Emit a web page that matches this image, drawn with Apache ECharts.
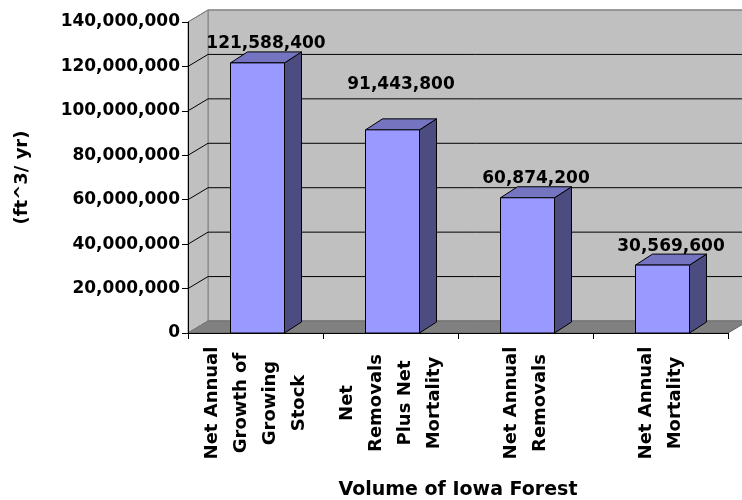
<!DOCTYPE html>
<html>
<head>
<meta charset="utf-8">
<script src="https://cdn.jsdelivr.net/npm/echarts@6/dist/echarts.min.js"></script>
<style>
  html, body { margin: 0; padding: 0; background: #ffffff; }
  #chart { width: 742px; height: 500px; }
</style>
</head>
<body>
<div id="chart"></div>
<script>
// Volume of Iowa forest, cubic feet per year
const categories = [
  'Net Annual\nGrowth of\nGrowing\nStock',
  'Net\nRemovals\nPlus Net\nMortality',
  'Net Annual\nRemovals',
  'Net Annual\nMortality'
];
const volumes = [121588400, 91443800, 60874200, 30569600];
const yTicks = [0, 20000000, 40000000, 60000000, 80000000, 100000000, 120000000, 140000000];
const xAxisTitle = 'Volume of Iowa Forest';
const yAxisTitle = '(ft^3/ yr)';

// Depth of the 3-D box (walls) and of each column, in pixels
const WALL_DX = 20, WALL_DY = -12;
const BAR_DX = 17, BAR_DY = -11;
const BAR_WIDTH_RATIO = 0.4;
// extra lift for individual value labels
const labelLift = [0, 26, 0, 0];

const FONT = '"DejaVu Sans", "Liberation Sans", Arial, sans-serif';

function withCommas(v) {
  return String(Math.round(v)).replace(/\B(?=(\d{3})+(?!\d))/g, ',');
}

function plotEdges(api) {
  const bw = api.size([1, 0])[0];
  const x0 = api.coord([0, 0])[0] - bw / 2;
  const x1 = api.coord([categories.length - 1, 0])[0] + bw / 2;
  const yB = api.coord([0, yTicks[0]])[1];
  const yT = api.coord([0, yTicks[yTicks.length - 1]])[1];
  return { x0, x1, yB, yT, bw };
}

// back wall, side wall and floor
function renderWalls(params, api) {
  const e = plotEdges(api);
  const dx = WALL_DX, dy = WALL_DY;
  return {
    type: 'group',
    children: [
      {
        type: 'rect',
        shape: { x: e.x0 + dx, y: e.yT + dy, width: e.x1 - e.x0, height: e.yB - e.yT },
        style: { fill: '#c0c0c0', stroke: '#808080', lineWidth: 1 }
      },
      {
        type: 'polygon',
        shape: { points: [[e.x0, e.yB], [e.x0, e.yT], [e.x0 + dx, e.yT + dy], [e.x0 + dx, e.yB + dy]] },
        style: { fill: '#c0c0c0', stroke: '#808080', lineWidth: 1 }
      },
      {
        type: 'polygon',
        shape: { points: [[e.x0, e.yB], [e.x1, e.yB], [e.x1 + dx, e.yB + dy], [e.x0 + dx, e.yB + dy]] },
        style: { fill: '#808080', stroke: '#606060', lineWidth: 1 }
      }
    ]
  };
}

// one gridline per tick: diagonal on the side wall, horizontal on the back wall
function renderGridline(params, api) {
  const e = plotEdges(api);
  const v = api.value(1);
  const y = api.coord([0, v])[1];
  const edge = (v === yTicks[0] || v === yTicks[yTicks.length - 1]);
  const color = edge ? '#808080' : '#000000';
  return {
    type: 'group',
    children: [
      {
        type: 'line',
        shape: { x1: e.x0, y1: y, x2: e.x0 + WALL_DX, y2: y + WALL_DY },
        style: { stroke: color, lineWidth: 1 }
      },
      {
        type: 'line',
        shape: { x1: e.x0 + WALL_DX, y1: y + WALL_DY, x2: e.x1 + WALL_DX, y2: y + WALL_DY },
        style: { stroke: color, lineWidth: 1 }
      }
    ]
  };
}

// 3-D column with its value label
function renderColumn(params, api) {
  const idx = api.value(0);
  const v = api.value(1);
  const top = api.coord([idx, v]);
  const base = api.coord([idx, 0]);
  const bw = api.size([1, 0])[0];
  const w = bw * BAR_WIDTH_RATIO;
  const cx = top[0] + 2;
  const xl = cx - w / 2, xr = cx + w / 2;
  const yt = top[1], yb = base[1];
  const dx = BAR_DX, dy = BAR_DY;
  const outline = { stroke: '#000000', lineWidth: 1, lineJoin: 'round' };
  return {
    type: 'group',
    children: [
      {
        type: 'polygon',
        shape: { points: [[xr, yb], [xr, yt], [xr + dx, yt + dy], [xr + dx, yb + dy]] },
        style: Object.assign({ fill: '#4c4c80' }, outline)
      },
      {
        type: 'polygon',
        shape: { points: [[xl, yt], [xr, yt], [xr + dx, yt + dy], [xl + dx, yt + dy]] },
        style: Object.assign({ fill: '#7474c0' }, outline)
      },
      {
        type: 'rect',
        shape: { x: xl, y: yt, width: w, height: yb - yt },
        style: Object.assign({ fill: '#9999ff' }, outline)
      },
      {
        type: 'text',
        x: cx + dx / 2,
        y: yt + dy - 8 - labelLift[params.dataIndex],
        style: {
          text: withCommas(v),
          fill: '#000000',
          fontSize: 17,
          fontWeight: 'bold',
          fontFamily: FONT,
          align: 'center',
          verticalAlign: 'middle'
        }
      }
    ]
  };
}

const chart = echarts.init(document.getElementById('chart'), null, { renderer: 'canvas' });

chart.setOption({
  animation: false,
  backgroundColor: '#ffffff',
  grid: { left: 188, right: 14, top: 22, bottom: 167, containLabel: false, outerBoundsMode: 'none' },
  xAxis: {
    type: 'category',
    data: categories,
    boundaryGap: true,
    z: 10,
    axisLine: { show: true, lineStyle: { color: '#000000', width: 1 } },
    axisTick: { show: true, length: 6, alignWithLabel: false, lineStyle: { color: '#000000' } },
    axisLabel: {
      interval: 0,
      rotate: 90,
      align: 'center',
      verticalAlign: 'middle',
      margin: 70,
      lineHeight: 29,
      padding: [12, 0, 0, 0],
      fontSize: 18,
      fontWeight: 'bold',
      fontFamily: FONT,
      color: '#000000'
    },
    splitLine: { show: false },
    name: xAxisTitle,
    nameLocation: 'middle',
    nameGap: 148,
    nameTextStyle: { fontSize: 19, fontWeight: 'bold', fontFamily: FONT, color: '#000000' }
  },
  yAxis: {
    type: 'value',
    min: yTicks[0],
    max: yTicks[yTicks.length - 1],
    interval: yTicks[1] - yTicks[0],
    z: 10,
    axisLine: { show: true, lineStyle: { color: '#000000', width: 1 } },
    axisTick: { show: true, length: 6, lineStyle: { color: '#000000' } },
    splitLine: { show: false },
    axisLabel: {
      formatter: withCommas,
      margin: 8,
      fontSize: 17,
      fontWeight: 'bold',
      fontFamily: FONT,
      color: '#000000'
    },
    name: yAxisTitle,
    nameLocation: 'middle',
    nameRotate: 90,
    nameGap: 157,
    nameTextStyle: { fontSize: 18, fontWeight: 'bold', fontFamily: FONT, color: '#000000' }
  },
  series: [
    {
      name: 'walls',
      type: 'custom',
      z: 1,
      silent: true,
      renderItem: renderWalls,
      data: [[0, 0]]
    },
    {
      name: 'gridlines',
      type: 'custom',
      z: 2,
      silent: true,
      renderItem: renderGridline,
      data: yTicks.map(v => [0, v])
    },
    {
      name: 'volume',
      type: 'custom',
      z: 5,
      renderItem: renderColumn,
      data: volumes.map((v, i) => [i, v])
    }
  ]
});
</script>
</body>
</html>
